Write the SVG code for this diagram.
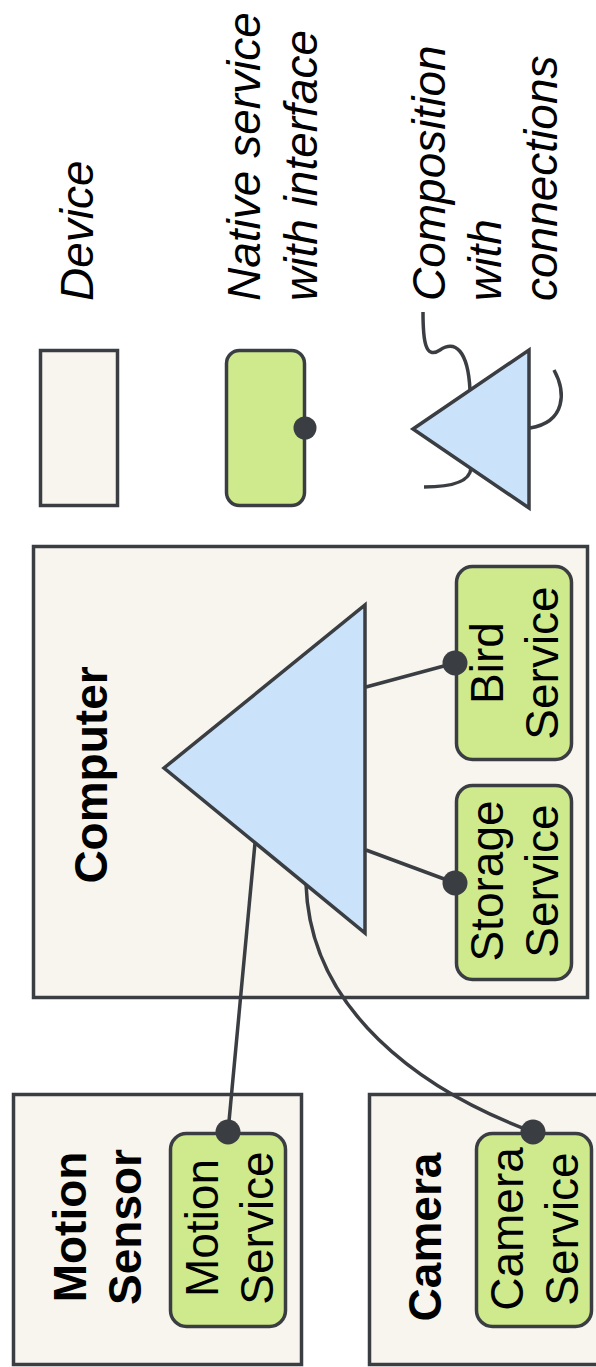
<svg xmlns="http://www.w3.org/2000/svg" width="596" height="1367" viewBox="0 0 596 1367">
<style>
.dev{fill:#f7f5ee;stroke:#3a3d42;stroke-width:3.5}
.svc{fill:#cfea8c;stroke:#3a3d42;stroke-width:3.5}
.comp{fill:#cae3fb;stroke:#3a3d42;stroke-width:3.5;stroke-linejoin:miter}
.dot{fill:#3a3d42}
.con{fill:none;stroke:#3a3d42;stroke-width:3.5}
text{font-family:"Liberation Sans",Arial,sans-serif;font-size:46px;fill:#000}
.it{font-style:italic}
.b{font-weight:bold}
</style>
<rect width="596" height="1367" fill="#fff"/>
<g id="legend">
  <g id="legend-device">
    <rect class="dev" x="40.5" y="350.5" width="77" height="155"/>
    <text class="it" transform="translate(93,301) rotate(-90)">Device</text>
  </g>
  <g id="legend-service">
    <rect class="svc" x="226.5" y="350.5" width="78" height="155" rx="13"/>
    <circle class="dot" cx="305" cy="428" r="11.5"/>
    <text class="it" transform="translate(260,301) rotate(-90)"><tspan x="0" y="0">Native service</tspan><tspan x="0" y="57">with interface</tspan></text>
  </g>
  <g id="legend-composition">
    <path class="con" d="M423,312 C423,340 425,360 440,350 C455,340 468,350 470,390"/>
    <path class="con" d="M554,370 C566,392 566,422 530,428"/>
    <path class="con" d="M424,487 C450,487 470,482 471,468"/>
    <polygon class="comp" points="413,429 529,350 529,508"/>
    <text class="it" transform="translate(445,301) rotate(-90)"><tspan x="0" y="0">Composition</tspan><tspan x="0" y="56">with</tspan><tspan x="0" y="112">connections</tspan></text>
  </g>
</g>
<g id="computer">
  <rect class="dev" x="33.5" y="546.5" width="554" height="451"/>
  <text class="b" text-anchor="middle" transform="translate(107,775) rotate(-90)">Computer</text>
</g>
<g id="motion-sensor">
  <rect class="dev" x="13.5" y="1094.5" width="288" height="270"/>
  <text class="b" text-anchor="middle" transform="translate(86,1227) rotate(-90)"><tspan x="0" y="0">Motion</tspan><tspan x="0" y="55">Sensor</tspan></text>
</g>
<g id="camera">
  <rect class="dev" x="369.5" y="1094.5" width="240" height="270"/>
  <text class="b" text-anchor="middle" transform="translate(441,1237) rotate(-90)">Camera</text>
</g>
<g id="composition">
  <polygon class="comp" points="164,768 365,605 365,933"/>
</g>
<g id="connectors">
  <line class="con" x1="366" y1="687" x2="455" y2="663"/>
  <line class="con" x1="366" y1="850" x2="455" y2="883"/>
  <line class="con" x1="255" y1="843" x2="228" y2="1132"/>
  <path class="con" d="M306,884 C310,1010 420,1090 533,1132"/>
</g>
<g id="bird-service">
  <rect class="svc" x="456.5" y="566.5" width="115" height="193" rx="16"/>
  <circle class="dot" cx="455" cy="663" r="12.5"/>
  <text text-anchor="middle" transform="translate(503,663) rotate(-90)"><tspan x="0" y="0">Bird</tspan><tspan x="0" y="55">Service</tspan></text>
</g>
<g id="storage-service">
  <rect class="svc" x="456.5" y="785.5" width="115" height="194" rx="16"/>
  <circle class="dot" cx="455" cy="883" r="12.5"/>
  <text text-anchor="middle" transform="translate(503,881) rotate(-90)"><tspan x="0" y="0">Storage</tspan><tspan x="0" y="55">Service</tspan></text>
</g>
<g id="motion-service">
  <rect class="svc" x="170.5" y="1133.5" width="115" height="193" rx="16"/>
  <circle class="dot" cx="228" cy="1132" r="12.5"/>
  <text text-anchor="middle" transform="translate(218,1228) rotate(-90)"><tspan x="0" y="0">Motion</tspan><tspan x="0" y="55">Service</tspan></text>
</g>
<g id="camera-service">
  <rect class="svc" x="476.5" y="1133.5" width="115" height="193" rx="16"/>
  <circle class="dot" cx="533" cy="1132" r="12.5"/>
  <text text-anchor="middle" transform="translate(523,1229) rotate(-90)"><tspan x="0" y="0">Camera</tspan><tspan x="0" y="55">Service</tspan></text>
</g>
</svg>
